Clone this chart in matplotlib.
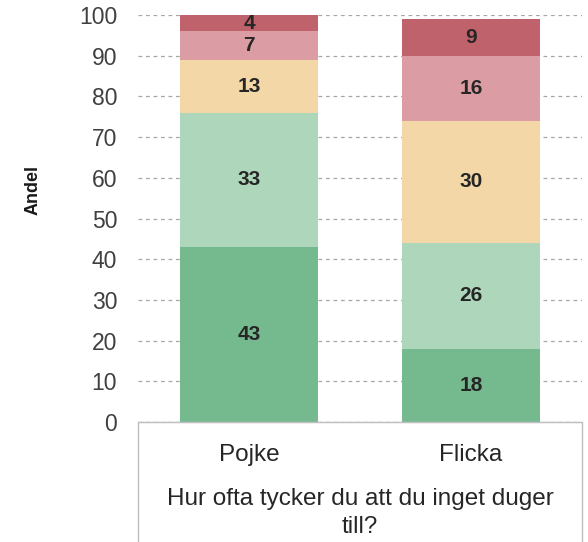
import matplotlib.pyplot as plt
import numpy as np
from matplotlib.patches import Rectangle

plt.rcParams['font.family'] = ['Liberation Sans', 'DejaVu Sans']

groups = ['Pojke', 'Flicka']
# answer shares, bottom to top
shares = [
    [43, 18],
    [33, 26],
    [13, 30],
    [7, 16],
    [4, 9],
]
colors = ['#75B98E', '#ADD6BA', '#F4D7A6', '#DB9DA3', '#C0626B']
question = 'Hur ofta tycker du att du inget duger\ntill?'

fig = plt.figure(figsize=(5.88, 5.42), dpi=100)
W, H = 588, 542
left, right, top, bottom = 138, 582, 15, 422
ax = fig.add_axes([left / W, 1 - bottom / H, (right - left) / W, (bottom - top) / H])

x = np.arange(len(groups))
base = np.zeros(len(groups))
for vals, c in zip(shares, colors):
    vals = np.array(vals, dtype=float)
    ax.bar(x, vals, bottom=base, width=0.62, color=c, zorder=2)
    for xi, b, v in zip(x, base, vals):
        ax.text(xi, b + v / 2, f'{int(v)}', ha='center', va='center',
                fontsize=15, fontweight='bold', color='#262626', zorder=3)
    base += vals

ax.set_xlim(-0.5, 1.5)
ax.set_ylim(0, 100)
ax.set_yticks(range(0, 101, 10))
ax.yaxis.grid(True, linestyle=(0, (3, 3)), color='#A6A6A6', linewidth=0.9, zorder=0)
ax.set_axisbelow(True)
for s in ['left', 'right', 'top']:
    ax.spines[s].set_visible(False)
ax.spines['bottom'].set_color('#BFBFBF')
ax.tick_params(axis='y', length=0, pad=15, labelsize=16.5, labelcolor='#404040')
ax.tick_params(axis='x', length=0, pad=16, labelsize=17.5, labelcolor='#262626')
ax.set_xticks(x)
ax.set_xticklabels(groups)

ax.set_xlabel(question, fontsize=17.5, color='#262626', linespacing=1.3, labelpad=16)
ax.set_ylabel('Andel', fontsize=13, fontweight='bold', color='#1a1a1a')
ax.yaxis.set_label_coords((42 - left) / (right - left), (bottom - 190) / (bottom - top))

# frame around the category area under the plot
fig.patches.append(Rectangle((left / W, -0.05), (right - left) / W, 1 - bottom / H + 0.05,
                             transform=fig.transFigure, fill=False,
                             edgecolor='#BFBFBF', linewidth=1.0))

fig.savefig('out.png', dpi=100)
